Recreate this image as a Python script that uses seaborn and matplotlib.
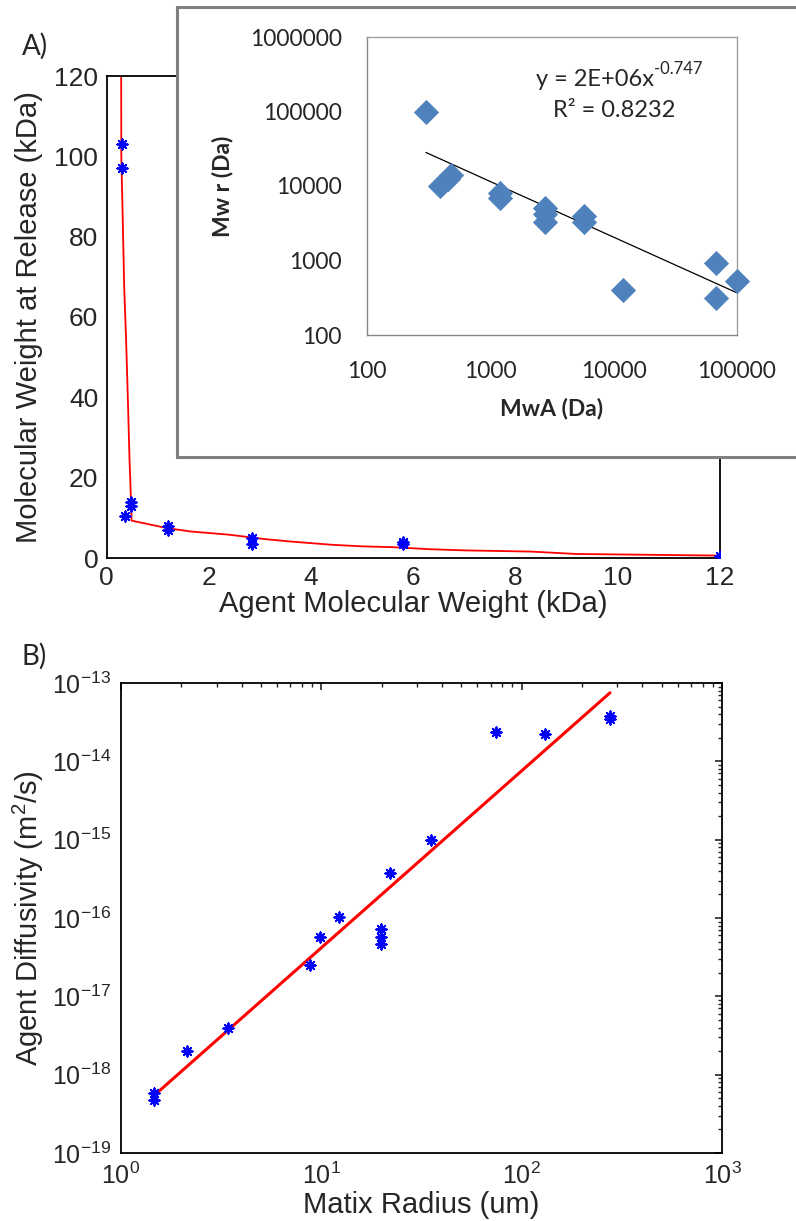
import numpy as np
import matplotlib
matplotlib.use("Agg")
import matplotlib.pyplot as plt
import matplotlib.ticker as mticker
import seaborn as sns

# panel A: agent MW vs MW at release (kDa)
a_mw = [0.3, 0.3, 0.37, 0.47, 0.47, 1.2, 1.2, 2.85, 2.85, 5.8, 5.8, 12.0]
a_release = [103, 97, 10.5, 14, 13, 8, 7, 5, 3.5, 3.9, 3.4, 0.4]
# red model curve
a_curve_x = [0.287, 0.29, 0.32, 0.345, 0.384, 0.417, 0.449, 0.48, 0.49, 1.2, 1.65,
             2.4, 3.1, 3.6, 4.4, 5.0, 5.6, 6.3, 7.0, 8.3, 9.2, 12.0]
a_curve_y = [120, 100, 83, 68, 54, 40, 25, 14, 9.3, 7.4, 6.6,
             5.8, 4.7, 4.1, 3.3, 2.9, 2.7, 2.2, 1.9, 1.6, 1.0, 0.6]
a_xticks = [0, 2, 4, 6, 8, 10, 12]
a_yticks = [0, 20, 40, 60, 80, 100, 120]

# inset (Da, log-log)
in_mwa = [300, 390, 450, 480, 1200, 1200, 2800, 2800, 2800, 5800, 5800, 12000, 67000, 67000, 100000]
in_mwr = [100000, 10000, 12500, 14000, 8000, 6900, 5000, 4200, 3300, 3900, 3300, 400, 930, 310, 530]
trend_a = 2e6
trend_b = -0.747
trend_x = [300, 100000]
in_xticks = [100, 1000, 10000, 100000]
in_yticks = [100, 1000, 10000, 100000, 1000000]
in_xlabels = ["100", "1000", "10000", "100000"]
in_ylabels = ["100", "1000", "10000", "100000", "1000000"]

# panel B: matrix radius vs diffusivity
b_radius = [1.46, 1.46, 2.14, 3.42, 8.75, 9.85, 12.2, 19.8, 19.8, 19.8, 22.0, 35.2, 74.8, 131, 276, 276]
b_diff = [5.8e-19, 4.8e-19, 2.0e-18, 4.0e-18, 2.5e-17, 5.8e-17, 1.02e-16, 7.2e-17, 5.8e-17,
          4.6e-17, 3.7e-16, 1.0e-15, 2.38e-14, 2.25e-14, 3.8e-14, 3.5e-14]
b_fit_r = [1.46, 276]
b_fit_d = [5.4e-19, 7.5e-14]
b_xticks = [1, 10, 100, 1000]
b_yticks = [1e-19, 1e-18, 1e-17, 1e-16, 1e-15, 1e-14, 1e-13]

sns.set_style("white")
plt.rcParams["font.family"] = ["Liberation Sans", "DejaVu Sans"]
plt.rcParams["axes.unicode_minus"] = False

W, H = 796, 1221
fig = plt.figure(figsize=(W / 100, H / 100), dpi=100)

def box(l, t, r, b):
    return [l / W, 1 - b / H, (r - l) / W, (b - t) / H]

star = (8, 2, 0)

# ---- panel A
axA = fig.add_axes(box(106.5, 76, 720, 558))
sns.lineplot(x=a_curve_x, y=a_curve_y, ax=axA, color="red", linewidth=1.3,
             sort=False, estimator=None)
sns.scatterplot(x=a_mw, y=a_release, ax=axA, marker=star, s=55, color="blue",
                linewidth=1.4, zorder=3)
axA.set_xlim(0, 12)
axA.set_ylim(0, 120)
axA.set_xticks(a_xticks)
axA.set_yticks(a_yticks)
axA.tick_params(direction="in", length=5, width=1.2, labelsize=19, pad=6)
for s in axA.spines.values():
    s.set_linewidth(1.3)
    s.set_color("black")
axA.set_xlabel("Agent Molecular Weight (kDa)", fontsize=21, labelpad=0)
axA.set_ylabel("Molecular Weight at Release (kDa)", fontsize=21, labelpad=8)

# ---- inset frame
axBox = fig.add_axes(box(177, 7, 810, 457), zorder=2)
axBox.set_xticks([])
axBox.set_yticks([])
axBox.set_facecolor("white")
for s in axBox.spines.values():
    s.set_color("#808080")
    s.set_linewidth(2.2)

inset_font = ["Lato", "DejaVu Sans"]
axIn = fig.add_axes(box(367, 37, 737, 335), zorder=3)
axIn.set_xscale("log")
axIn.set_yscale("log")
sns.lineplot(x=trend_x, y=[trend_a * v ** trend_b for v in trend_x], ax=axIn,
             color="black", linewidth=0.9, sort=False, estimator=None)
sns.scatterplot(x=in_mwa, y=in_mwr, ax=axIn, marker="D", s=165, color="#4F81BD",
                edgecolor="#4F81BD", linewidth=0, zorder=3, clip_on=False)
axIn.set_xlim(100, 100000)
axIn.set_ylim(100, 1000000)
axIn.xaxis.set_major_locator(mticker.FixedLocator(in_xticks))
axIn.yaxis.set_major_locator(mticker.FixedLocator(in_yticks))
axIn.xaxis.set_minor_locator(mticker.NullLocator())
axIn.yaxis.set_minor_locator(mticker.NullLocator())
axIn.set_xticklabels(in_xlabels, fontfamily=inset_font, fontsize=16.5)
axIn.set_yticklabels(in_ylabels, fontfamily=inset_font, fontsize=16.5)
axIn.tick_params(direction="out", length=8, width=1, color="#868686")
axIn.tick_params(axis="y", pad=10)
axIn.tick_params(axis="x", pad=11)
for s in axIn.spines.values():
    s.set_color("#a0a0a0")
    s.set_linewidth(1)
axIn.spines["left"].set_color("#868686")
axIn.spines["bottom"].set_color("#868686")
axIn.set_xlabel("MwA (Da)", fontfamily=inset_font, fontsize=16.5, fontweight="bold", labelpad=11)
axIn.set_ylabel("Mw r (Da)", fontfamily=inset_font, fontsize=16.5, fontweight="bold", labelpad=12)
eq = axIn.text(0.615, 0.856, "y = 2E+06x", transform=axIn.transAxes,
               ha="center", va="center", fontfamily=inset_font, fontsize=17)
axIn.annotate("-0.747", xy=(1.0, 0.62), xycoords=eq, ha="left", va="bottom",
              fontfamily=inset_font, fontsize=12)
axIn.text(0.668, 0.755, "R\u00b2 = 0.8232", transform=axIn.transAxes,
          ha="center", va="center", fontfamily=inset_font, fontsize=17)

# ---- panel B
axB = fig.add_axes(box(121, 683, 722, 1153))
axB.set_xscale("log")
axB.set_yscale("log")
sns.lineplot(x=b_fit_r, y=b_fit_d, ax=axB, color="red", linewidth=2.2,
             sort=False, estimator=None)
sns.scatterplot(x=b_radius, y=b_diff, ax=axB, marker=star, s=55, color="blue",
                linewidth=1.4, zorder=3)
axB.set_xlim(1, 1000)
axB.set_ylim(1e-19, 1e-13)
axB.xaxis.set_major_locator(mticker.FixedLocator(b_xticks))
axB.yaxis.set_major_locator(mticker.FixedLocator(b_yticks))
axB.xaxis.set_major_formatter(mticker.LogFormatterSciNotation())
axB.yaxis.set_major_formatter(mticker.LogFormatterSciNotation())
axB.xaxis.set_minor_locator(mticker.LogLocator(base=10, subs=np.arange(2, 10), numticks=20))
axB.yaxis.set_minor_locator(mticker.LogLocator(base=10, subs=np.arange(2, 10), numticks=20))
axB.yaxis.set_minor_formatter(mticker.NullFormatter())
axB.xaxis.set_minor_formatter(mticker.NullFormatter())
axB.tick_params(which="both", direction="in", top=True, right=True, labelsize=18)
axB.tick_params(which="major", length=5, width=1.2, pad=7)
axB.tick_params(which="minor", length=3, width=1)
for s in axB.spines.values():
    s.set_linewidth(1.3)
    s.set_color("black")
axB.set_xlabel("Matix Radius (um)", fontsize=21, labelpad=1)
axB.set_ylabel(r"Agent Diffusivity (m$^{\mathregular{2}}$/s)", fontsize=21, labelpad=4)

fig.text(22 / W, 1 - 46 / H, "A)", fontsize=20, family=["Lato", "DejaVu Sans"], va="center")
fig.text(22 / W, 1 - 656 / H, "B)", fontsize=20, family=["Lato", "DejaVu Sans"], va="center")

fig.savefig("out.png", dpi=100)
